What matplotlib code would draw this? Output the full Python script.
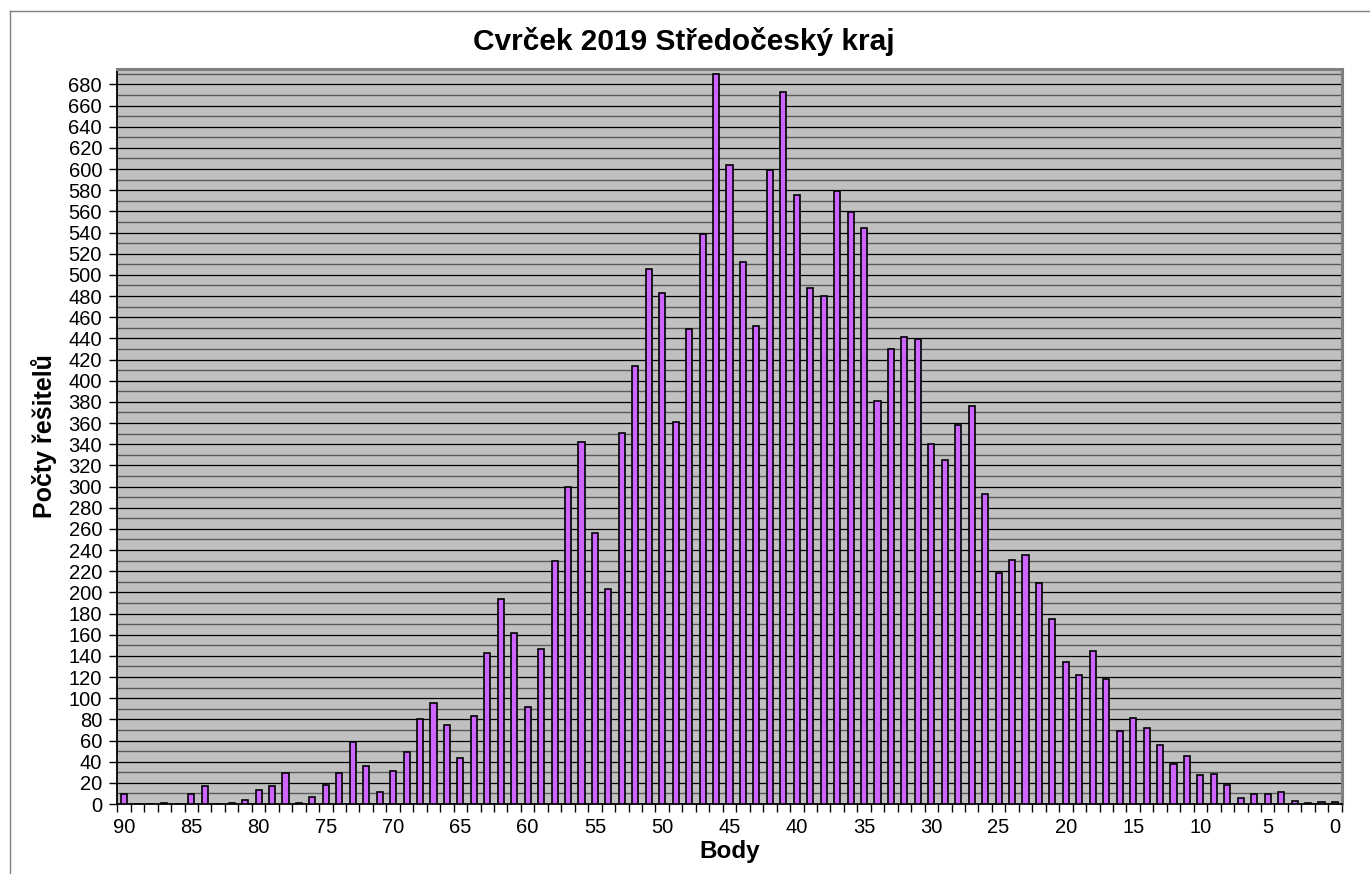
import matplotlib
matplotlib.use("Agg")
import matplotlib.pyplot as plt
from matplotlib.lines import Line2D
from matplotlib.ticker import MultipleLocator, FixedLocator

plt.rcParams['font.family'] = ['Liberation Sans', 'DejaVu Sans']

# body (points) from 90 down to 0
body = list(range(90, -1, -1))
pocty = [9, 0, 0, 1, 0, 9, 17, 0, 1, 4,          # 90..81
         13, 17, 29, 1, 7, 18, 29, 59, 36, 11,   # 80..71
         31, 49, 80, 95, 75, 43, 83, 143, 194, 162,  # 70..61
         92, 146, 230, 300, 342, 256, 203, 351, 414, 506,  # 60..51
         483, 361, 449, 539, 690, 604, 512, 452, 599, 673,  # 50..41
         575, 488, 480, 579, 559, 544, 381, 430, 441, 439,  # 40..31
         340, 325, 358, 376, 293, 218, 231, 235, 209, 175,  # 30..21
         134, 122, 145, 118, 69, 81, 72, 56, 38, 45,        # 20..11
         27, 28, 18, 6, 9, 9, 11, 3, 1, 2,                  # 10..1
         2]                                                 # 0
x_labels = list(range(90, -1, -5))

fig = plt.figure(figsize=(13.7, 8.74), dpi=100)
ax = fig.add_axes([117.3 / 1370, 1 - 804 / 874, (1341.7 - 117.3) / 1370, (804 - 68.5) / 874])
ax.set_facecolor('#c0c0c0')

ax.bar(body, pocty, width=0.45, color='#cc66ff', edgecolor='black', linewidth=1.2, zorder=3)

ax.set_xlim(90.5, -0.5)
ax.set_ylim(0, 695)

ax.yaxis.set_major_locator(MultipleLocator(20))
ax.yaxis.set_minor_locator(MultipleLocator(10))
ax.grid(axis='y', which='major', color='black', linewidth=0.9, zorder=1)
ax.grid(axis='y', which='minor', color='#5a5a5a', linewidth=1.0, zorder=1)
ax.tick_params(axis='y', which='major', direction='out', length=6, width=1, labelsize=14.5, pad=5)
ax.tick_params(axis='y', which='minor', length=0)

ax.xaxis.set_major_locator(FixedLocator(x_labels))
ax.set_xticklabels([str(v) for v in x_labels])
ax.xaxis.set_minor_locator(FixedLocator([b + 0.5 for b in range(-1, 91)]))
ax.tick_params(axis='x', which='major', length=0, labelsize=14.5, pad=10)
ax.tick_params(axis='x', which='minor', direction='out', length=6, width=1)

for s in ['left', 'bottom']:
    ax.spines[s].set_color('black')
    ax.spines[s].set_linewidth(1.3)
for s in ['top', 'right']:
    ax.spines[s].set_color('#808080')
    ax.spines[s].set_linewidth(2.2)

ax.set_xlabel('Body', fontsize=17.5, fontweight='bold', labelpad=2)
ax.set_ylabel('Počty řešitelů', fontsize=18, fontweight='bold', labelpad=8)
fig.text(684 / 1370, 1 - 42 / 874, 'Cvrček 2019 Středočeský kraj', fontsize=21.5,
         fontweight='bold', ha='center', va='center')

# outer chart border (top and left only visible)
fig.add_artist(Line2D([10 / 1370, 10 / 1370], [0, 1 - 11 / 874], color='#808080', linewidth=1))
fig.add_artist(Line2D([10 / 1370, 1], [1 - 11 / 874, 1 - 11 / 874], color='#808080', linewidth=1))

fig.savefig('out.png', dpi=100, facecolor='white')
